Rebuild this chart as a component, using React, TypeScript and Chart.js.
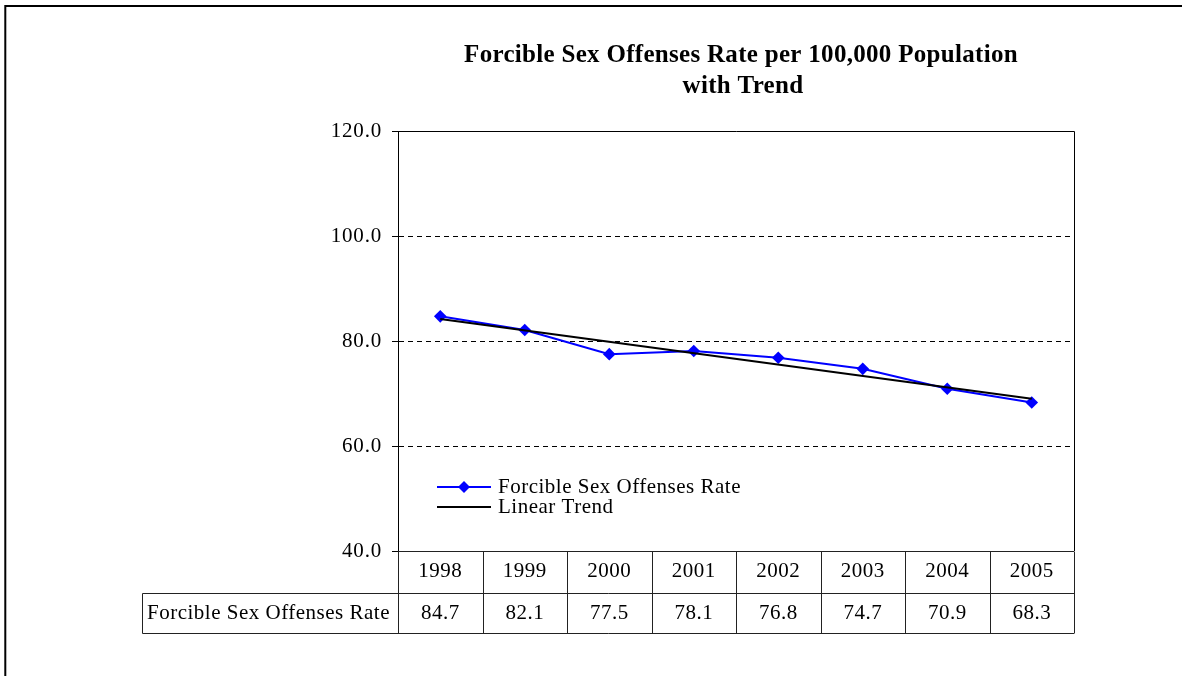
import { useEffect, useRef } from 'react';
import { Chart, registerables } from 'chart.js';

Chart.register(...registerables);

const years = ['1998', '1999', '2000', '2001', '2002', '2003', '2004', '2005'];
const rates = [84.7, 82.1, 77.5, 78.1, 76.8, 74.7, 70.9, 68.3];
// Linear trend end points (first and last year)
const trendStart = 84.2;
const trendEnd = 69.0;
const yMin = 40;
const yMax = 120;
const yStep = 20;
const dashedTicks = [60, 80, 100];
const titleLines = ['Forcible Sex Offenses Rate per 100,000 Population', 'with Trend'];
const seriesName = 'Forcible Sex Offenses Rate';
const trendName = 'Linear Trend';

const trendData = years.map((_, i) =>
  i === 0 ? trendStart : i === years.length - 1 ? trendEnd : null
);

const FONT = "'Liberation Serif', 'Times New Roman', serif";
const BLUE = '#0000FF';

function diamond(ctx: CanvasRenderingContext2D, x: number, y: number, r: number) {
  ctx.beginPath();
  ctx.moveTo(x, y - r);
  ctx.lineTo(x + r, y);
  ctx.lineTo(x, y + r);
  ctx.lineTo(x - r, y);
  ctx.closePath();
  ctx.fill();
}

const decor = {
  id: 'decor',
  beforeDraw(chart: any) {
    (chart.ctx as any).letterSpacing = '0.8px';
  },
  afterDraw(chart: any) {
    const ctx: CanvasRenderingContext2D = chart.ctx;
    const a = chart.chartArea;
    const x = chart.scales.x;
    ctx.save();
    // outer frame
    ctx.strokeStyle = '#000';
    ctx.lineWidth = 2;
    ctx.strokeRect(5.3, 6, 1400, 900);

    // plot box top and right
    ctx.lineWidth = 1;
    ctx.beginPath();
    ctx.moveTo(a.left, Math.round(a.top) + 0.5);
    ctx.lineTo(Math.round(a.right) + 0.5, Math.round(a.top) + 0.5);
    ctx.lineTo(Math.round(a.right) + 0.5, Math.round(a.bottom));
    ctx.stroke();

    // data table
    const n = years.length;
    const step = x.getPixelForValue(1) - x.getPixelForValue(0);
    const left = x.getPixelForValue(0) - step / 2;
    const right = x.getPixelForValue(n - 1) + step / 2;
    const r1t = Math.round(a.bottom) + 0.5;
    const r1b = r1t + 42;
    const r2b = r1b + 40;
    const labelLeft = 142.5;
    ctx.strokeStyle = '#222';
    ctx.lineWidth = 1;
    ctx.beginPath();
    ctx.moveTo(left, r1t); ctx.lineTo(right, r1t);
    ctx.moveTo(labelLeft, r1b); ctx.lineTo(right, r1b);
    ctx.moveTo(labelLeft, r2b); ctx.lineTo(right, r2b);
    ctx.moveTo(labelLeft, r1b); ctx.lineTo(labelLeft, r2b);
    for (let i = 0; i <= n; i++) {
      const px = Math.round(left + i * step) + 0.5;
      ctx.moveTo(px, r1t);
      ctx.lineTo(px, r2b);
    }
    ctx.stroke();

    (ctx as any).letterSpacing = '0.5px';
    ctx.fillStyle = '#000';
    ctx.font = `21px ${FONT}`;
    ctx.textBaseline = 'middle';
    ctx.textAlign = 'center';
    for (let i = 0; i < n; i++) {
      const cx = x.getPixelForValue(i);
      ctx.fillText(years[i], cx, (r1t + r1b) / 2 - 1);
      ctx.fillText(rates[i].toFixed(1), cx, (r1b + r2b) / 2);
    }
    ctx.textAlign = 'left';
    ctx.fillText(seriesName, 147, (r1b + r2b) / 2);

    // legend
    const lx0 = 437;
    const lx1 = 491;
    const ly1 = 487;
    const ly2 = 507;
    ctx.strokeStyle = BLUE;
    ctx.lineWidth = 2;
    ctx.beginPath();
    ctx.moveTo(lx0, ly1); ctx.lineTo(lx1, ly1);
    ctx.stroke();
    ctx.fillStyle = BLUE;
    diamond(ctx, (lx0 + lx1) / 2, ly1, 6);
    ctx.strokeStyle = '#000';
    ctx.lineWidth = 2;
    ctx.beginPath();
    ctx.moveTo(lx0, ly2); ctx.lineTo(lx1, ly2);
    ctx.stroke();
    ctx.fillStyle = '#000';
    ctx.fillText(seriesName, 498, ly1);
    ctx.fillText(trendName, 498, ly2);

    // title
    (ctx as any).letterSpacing = '0.3px';
    ctx.font = `bold 25px ${FONT}`;
    ctx.textAlign = 'center';
    ctx.textBaseline = 'alphabetic';
    ctx.fillText(titleLines[0], 741, 62);
    ctx.fillText(titleLines[1], 743, 93);
    ctx.restore();
  },
};

export default function App() {
  const ref = useRef<HTMLCanvasElement | null>(null);
  useEffect(() => {
    if (!ref.current) return;
    const chart = new Chart(ref.current, {
      type: 'line',
      data: {
        labels: years,
        datasets: [
          {
            label: seriesName,
            data: rates,
            borderColor: BLUE,
            backgroundColor: BLUE,
            borderWidth: 2,
            pointStyle: 'rectRot',
            pointRadius: 6.3,
            pointBackgroundColor: BLUE,
            pointBorderColor: BLUE,
            pointBorderWidth: 0,
            tension: 0,
            order: 2,
          },
          {
            label: trendName,
            data: trendData,
            borderColor: '#000',
            backgroundColor: '#000',
            borderWidth: 2,
            pointRadius: 0,
            spanGaps: true,
            tension: 0,
            order: 1,
          },
        ],
      },
      options: {
        animation: false,
        responsive: false,
        devicePixelRatio: 1,
        layout: { padding: { left: 0, right: 108, top: 131, bottom: 125 } },
        plugins: {
          legend: { display: false },
          title: { display: false },
          tooltip: { enabled: false },
        },
        scales: {
          x: {
            type: 'category',
            display: false,
            offset: true,
          },
          y: {
            min: yMin,
            max: yMax,
            afterFit: (s: any) => {
              s.width = 398;
            },
            ticks: {
              stepSize: yStep,
              color: '#000',
              padding: 10,
              font: { family: FONT, size: 21 },
              callback: (v: any) => Number(v).toFixed(1),
            },
            grid: {
              color: (c: any) =>
                dashedTicks.includes(c.tick?.value) ? '#000' : 'rgba(0,0,0,0)',
              lineWidth: 1,
              drawTicks: true,
              tickLength: 6,
              tickColor: '#000',
              tickWidth: 1,
              tickBorderDash: [],
            },
            border: { display: true, color: '#000', width: 1, dash: [5, 4] },
          },
        },
      },
      plugins: [decor],
    });
    return () => chart.destroy();
  }, []);
  return (
    <div style={{ position: 'fixed', left: 0, top: 0, width: 1182, height: 676, background: '#fff' }}>
      <canvas ref={ref} width={1182} height={676} style={{ display: 'block' }} />
    </div>
  );
}
